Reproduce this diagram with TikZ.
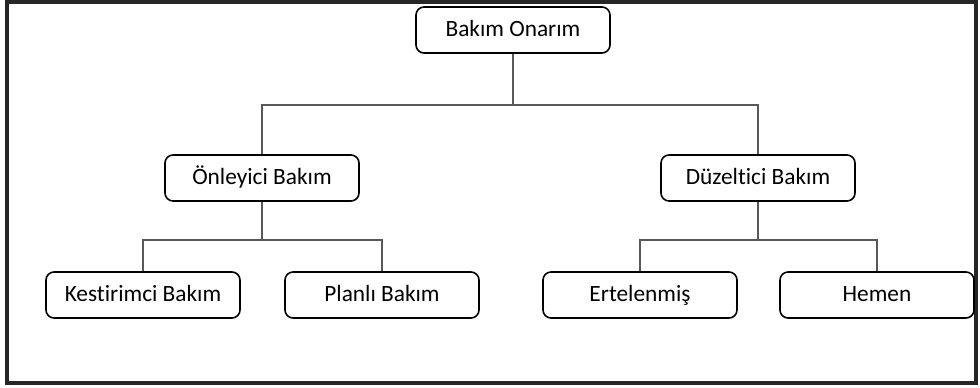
\documentclass[tikz,border=0pt]{standalone}
\usepackage{fontspec}
\setmainfont[Ligatures=NoCommon]{Carlito}
\usetikzlibrary{positioning}

\begin{document}
\begin{tikzpicture}[x=0.75pt, y=-0.75pt,
  box/.style={rectangle, rounded corners=6pt, draw=black, line width=1.2pt,
              fill=white, align=center, font=\fontsize{17.5}{20}\selectfont,
              text height=12pt, text depth=3pt,
              minimum width=145.5pt, minimum height=34.5pt, inner sep=0pt},
  conn/.style={draw=black!65, line width=0.8pt},
  frame/.style={draw=black!85, line width=2.4pt}
]
\useasboundingbox (0,0) rectangle (980,387);
\draw[frame] (7,2) rectangle (976,383);
\node[box] (root)  at (513,30)  {Bak\i m Onar\i m};
\node[box] (prev)  at (262,178) {Önleyici Bak\i m};
\node[box] (corr)  at (758,178) {Düzeltici Bak\i m};
\node[box] (pred)  at (143,295) {Kestirimci Bak\i m};
\node[box] (plan)  at (382,295) {Planl\i{} Bak\i m};
\node[box] (defer) at (640,295) {Ertelenmiş};
\node[box] (immed) at (877,295) {Hemen};
\draw[conn] (root.south) -- (root.south |- 0,105) -| (prev.north);
\draw[conn] (root.south) -- (root.south |- 0,105) -| (corr.north);
\draw[conn] (prev.south) -- (prev.south |- 0,240) -| (pred.north);
\draw[conn] (prev.south) -- (prev.south |- 0,240) -| (plan.north);
\draw[conn] (corr.south) -- (corr.south |- 0,240) -| (defer.north);
\draw[conn] (corr.south) -- (corr.south |- 0,240) -| (immed.north);
\end{tikzpicture}
\end{document}
